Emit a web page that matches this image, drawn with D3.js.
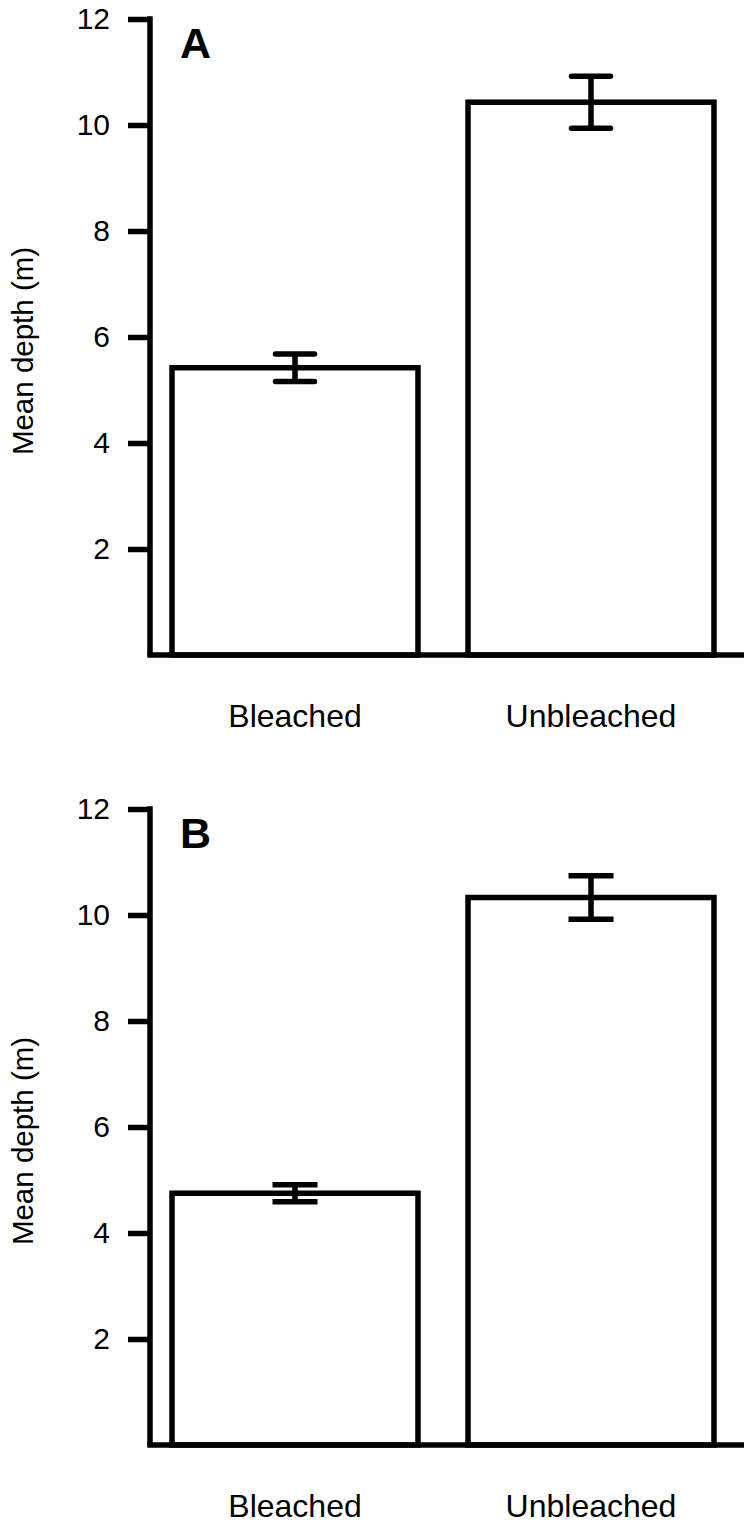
<!DOCTYPE html>
<html>
<head>
<meta charset="utf-8">
<script src="https://cdn.jsdelivr.net/npm/d3@7"></script>
<style>
  html, body { margin: 0; padding: 0; background: #fff; }
  svg { display: block; }
  text { font-family: "Liberation Sans", Arial, Helvetica, sans-serif; fill: #000; }
</style>
</head>
<body>
<svg id="chart" width="747" height="1526"></svg>
<script>
// ---- Data ----
const categories = ["Bleached", "Unbleached"];
const panelLabels = ["A", "B"];
const meansA = [5.42, 10.43];
const errorsA = [0.26, 0.49];
const meansB = [4.75, 10.33];
const errorsB = [0.16, 0.41];
const yTicks = [2, 4, 6, 8, 10, 12];
const yLabel = "Mean depth (m)";

const panels = [
  { label: panelLabels[0], means: meansA, errors: errorsA, top: 19, bottom: 655, cap: "round" },
  { label: panelLabels[1], means: meansB, errors: errorsB, top: 809, bottom: 1445, cap: "butt" }
];

const svg = d3.select("#chart");
const SW = 5.5;
const axisLeftX = 150;
const axisRightX = 744;

const x = d3.scaleBand()
  .domain(categories)
  .range([147, 739])
  .paddingInner(0.169)
  .paddingOuter(0.0845);

panels.forEach(p => {
  const g = svg.append("g");
  const y = d3.scaleLinear().domain([0, 12]).range([p.bottom, p.top]);

  // bars
  g.selectAll("rect.bar")
    .data(categories)
    .enter().append("rect")
    .attr("class", "bar")
    .attr("x", d => x(d))
    .attr("width", x.bandwidth())
    .attr("y", (d, i) => y(p.means[i]))
    .attr("height", (d, i) => y(0) - y(p.means[i]))
    .attr("fill", "#fff")
    .attr("stroke", "#000")
    .attr("stroke-width", SW);

  // error bars
  const eb = g.selectAll("g.eb")
    .data(categories)
    .enter().append("g")
    .attr("class", "eb")
    .attr("stroke", "#000")
    .attr("stroke-width", SW)
    .attr("stroke-linecap", p.cap);
  const capHalf = p.cap === "round" ? 19.5 : 22.5;
  eb.append("line")
    .attr("x1", d => x(d) + x.bandwidth() / 2)
    .attr("x2", d => x(d) + x.bandwidth() / 2)
    .attr("y1", (d, i) => y(p.means[i] - p.errors[i]))
    .attr("y2", (d, i) => y(p.means[i] + p.errors[i]))
    .attr("stroke-linecap", "butt");
  [-1, 1].forEach(s => {
    eb.append("line")
      .attr("x1", d => x(d) + x.bandwidth() / 2 - capHalf)
      .attr("x2", d => x(d) + x.bandwidth() / 2 + capHalf)
      .attr("y1", (d, i) => y(p.means[i] + s * p.errors[i]))
      .attr("y2", (d, i) => y(p.means[i] + s * p.errors[i]));
  });

  // y axis
  const yAxis = d3.axisLeft(y).tickValues(yTicks).tickSize(22).tickPadding(18).tickFormat(d3.format("d"));
  const ya = g.append("g")
    .attr("transform", `translate(${axisLeftX},0)`)
    .call(yAxis);
  ya.select(".domain").remove();
  ya.selectAll(".tick line").attr("stroke", "#000").attr("stroke-width", SW);
  ya.selectAll(".tick text")
    .attr("font-size", 30)
    .attr("font-family", "Liberation Sans, Arial, sans-serif")
    .attr("fill", "#000");

  // axis lines
  g.append("line")
    .attr("x1", axisLeftX).attr("x2", axisLeftX)
    .attr("y1", y(12) - SW / 2).attr("y2", y(0))
    .attr("stroke", "#000").attr("stroke-width", SW);
  g.append("line")
    .attr("x1", axisLeftX - SW / 2).attr("x2", axisRightX)
    .attr("y1", y(0)).attr("y2", y(0))
    .attr("stroke", "#000").attr("stroke-width", SW);

  // x labels
  g.selectAll("text.xl")
    .data(categories)
    .enter().append("text")
    .attr("class", "xl")
    .attr("x", d => x(d) + x.bandwidth() / 2)
    .attr("y", y(0) + 72)
    .attr("text-anchor", "middle")
    .attr("font-size", 32)
    .text(d => d);

  // y label
  g.append("text")
    .attr("transform", `translate(33,${(y(0) + y(12)) / 2 + 14}) rotate(-90)`)
    .attr("text-anchor", "middle")
    .attr("font-size", 29.5)
    .text(yLabel);

  // panel label
  g.append("text")
    .attr("x", 180)
    .attr("y", y(12) + 39)
    .attr("font-size", 43)
    .attr("font-weight", "bold")
    .text(p.label);
});
</script>
</body>
</html>
